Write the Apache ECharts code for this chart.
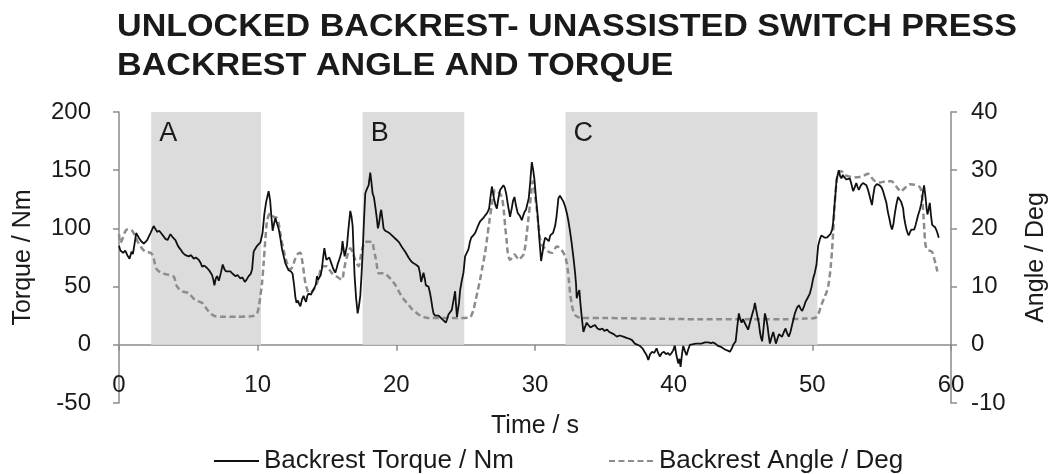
<!DOCTYPE html>
<html>
<head>
<meta charset="utf-8">
<title>Backrest Angle and Torque</title>
<script src="https://cdn.jsdelivr.net/npm/echarts@6/dist/echarts.min.js"></script>
<style>
  html, body { margin: 0; padding: 0; background: #ffffff; }
  #chart { width: 1059px; height: 474px; }
</style>
</head>
<body>
<div id="chart"></div>
<script>
// Torque trace (time in s, torque in Nm)
const torqueTime = [0,0.1,0.3,0.45,0.6,0.76,0.9,1.0,1.1,1.24,1.43,1.6,1.79,2.03,2.15,2.27,2.5,2.75,2.9,3.1,3.35,3.5,3.71,3.9,4.07,4.25,4.43,4.6,4.79,5.03,5.2,5.39,5.55,5.75,5.9,5.99,6.15,6.35,6.5,6.71,6.8,6.88,6.98,7.07,7.2,7.35,7.48,7.6,7.72,8.03,8.2,8.39,8.55,8.75,8.9,9.07,9.2,9.35,9.5,9.6,9.71,9.85,9.96,10.2,10.35,10.48,10.6,10.79,10.9,10.99,11.08,11.18,11.28,11.4,11.51,11.63,11.76,11.88,12.0,12.23,12.4,12.52,12.62,12.72,12.8,12.9,13.0,13.08,13.2,13.31,13.4,13.49,13.58,13.68,13.85,13.95,14.1,14.2,14.28,14.36,14.45,14.55,14.64,14.72,14.81,14.88,14.95,15.05,15.17,15.28,15.4,15.5,15.6,15.7,15.79,15.88,15.96,16.05,16.12,16.2,16.27,16.35,16.44,16.55,16.68,16.77,16.85,16.92,16.99,17.1,17.21,17.3,17.4,17.48,17.57,17.66,17.76,17.88,18.0,18.12,18.2,18.29,18.38,18.48,18.58,18.67,18.75,18.85,18.91,19.0,19.08,19.2,19.32,19.5,19.68,19.85,20.04,20.2,20.4,20.64,20.88,21.05,21.24,21.4,21.6,21.7,21.79,21.88,21.96,22.05,22.13,22.32,22.42,22.51,22.6,22.68,22.8,22.92,23.05,23.16,23.3,23.4,23.57,23.66,23.76,23.88,24.0,24.12,24.24,24.3,24.37,24.45,24.52,24.6,24.72,24.84,24.96,25.08,25.2,25.3,25.4,25.55,25.68,25.85,26.04,26.15,26.28,26.4,26.53,26.62,26.69,26.8,26.89,26.97,27.05,27.15,27.25,27.35,27.48,27.6,27.72,27.82,27.92,28.05,28.2,28.32,28.42,28.52,28.62,28.76,28.9,29.05,29.15,29.24,29.35,29.45,29.55,29.65,29.77,29.86,29.96,30.08,30.2,30.32,30.44,30.55,30.65,30.73,30.85,31.0,31.1,31.2,31.3,31.45,31.55,31.69,31.8,31.93,32.05,32.17,32.3,32.4,32.52,32.65,32.78,32.89,32.96,33.01,33.1,33.2,33.28,33.37,33.49,33.6,33.73,33.85,34.0,34.15,34.33,34.5,34.69,34.85,35.0,35.2,35.35,35.53,35.7,35.9,36.1,36.37,36.6,36.85,37.0,37.2,37.4,37.57,37.75,37.9,38.05,38.17,38.3,38.45,38.6,38.77,38.88,39.0,39.15,39.3,39.45,39.6,39.72,39.85,39.95,40.09,40.2,40.33,40.42,40.5,40.6,40.69,40.8,40.93,41.05,41.17,41.3,41.6,42.0,42.25,42.5,42.7,42.85,43.0,43.21,43.45,43.7,43.9,44.06,44.2,44.3,44.47,44.58,44.7,44.8,44.9,45.0,45.08,45.2,45.37,45.5,45.66,45.78,45.86,45.95,46.05,46.15,46.22,46.3,46.38,46.48,46.58,46.68,46.77,46.85,46.94,47.05,47.18,47.28,47.37,47.48,47.59,47.7,47.82,47.95,48.07,48.18,48.3,48.42,48.54,48.64,48.74,48.9,49.03,49.15,49.27,49.4,49.51,49.65,49.82,49.95,50.06,50.18,50.3,50.42,50.55,50.66,50.78,50.9,51.05,51.19,51.3,51.43,51.5,51.57,51.67,51.75,51.85,51.91,52.0,52.1,52.2,52.3,52.46,52.58,52.7,52.82,52.94,53.05,53.17,53.25,53.35,53.5,53.65,53.78,53.9,54.02,54.15,54.3,54.4,54.5,54.65,54.86,55.0,55.1,55.22,55.34,55.45,55.58,55.66,55.75,55.85,55.94,56.05,56.18,56.3,56.4,56.47,56.55,56.61,56.7,56.79,56.87,56.95,57.05,57.15,57.25,57.35,57.45,57.51,57.62,57.75,57.85,57.92,58.0,58.06,58.12,58.18,58.24,58.3,58.38,58.47,58.55,58.64,58.75,58.85,58.93,59.02,59.12];
const torqueValues = [85,81,79,81,77,74,80,78,85,96,92,89,87,90,89,96,102,97,98,95,91,90,95,92,90,85,82,79,77,76,77,74,75,73,70,67,68,66,64,60,56,51,57,59,55,62,69,65,63,63,61,59,60,57,58,54,56,59,61,65,80,83,85,88,96,112,122,132,124,110,98,104,109,104,100,92,82,76,70,64,63,61,52,41,36,38,35,33,39,42,39,37,42,44,43,46,49,52,59,56,56,60,66,75,83,78,73,74,75,71,67,64,62,66,70,73,76,80,89,82,76,80,85,100,115,110,102,80,59,40,27,33,42,58,79,105,130,134,137,148,140,130,127,119,110,100,104,113,116,108,100,98,97,96,94,92,90,88,84,80,75,72,70,69,67,62,54,58,62,57,51,50,45,39,32,27,25,24,25,24,22,22,19,22,26,28,30,38,46,35,24,23,36,47,55,62,76,79,82,88,92,94,96,101,106,105,109,111,113,115,117,128,136,131,125,120,117,125,133,135,137,135,130,120,110,117,124,127,120,113,111,107,111,114,116,117,126,139,157,151,142,125,110,90,72,80,88,92,92,89,94,93,96,102,110,126,128,127,123,119,113,107,98,87,74,62,52,40,44,47,35,24,11,15,19,17,15,16,17,14,13,14,12,13,11,10,9,7,8,7,6,5,4,1,0,-1,-3,-6,-9,-13,-8,-6,-7,-3,-7,-10,-7,-6,-8,-7,-9,-7,-5,-1,-9,-16,-12,-19,-8,-1,-5,-9,-4,0,1,1,1,2,2,1.5,2,1,-1,-2,-4,-5,-6,-3,0,3,15,27,22,19,22,21,17,13,19,26,31,36,30,24,18,11,6,3,14,27,22,16,8,1,6,11,6,1,5,9,8,7,11,14,10,7,11,17,22,27,32,34,31,29,33,37,40,44,50,57,62,69,85,91,94,93,92,92,93,95,99,105,116,130,142,147,150,145,143,146,144,142,141,143,138,132,135,139,136,133,137,139,140,137,133,127,120,129,136,138,137,135,132,127,122,114,107,102,99,104,112,120,127,126,123,122,117,110,104,99,96,94,97,99,98,99,103,106,111,116,121,126,133,137,131,125,117,112,116,122,112,103,104,101,99,96,92];

// Angle trace (time in s, angle in deg)
const angleTime = [0,0.1,0.3,0.45,0.59,0.8,0.95,1.19,1.35,1.55,1.75,1.91,2.27,2.4,2.5,2.6,2.75,3.11,3.59,3.95,4.08,4.19,4.55,5.03,5.25,5.51,5.99,6.2,6.47,6.7,6.95,7.5,8.5,9.5,9.75,9.96,10.1,10.19,10.31,10.43,10.55,10.67,10.8,10.91,11.15,11.4,11.52,11.63,11.75,11.87,12.0,12.12,12.35,12.48,12.6,12.72,12.84,13.08,13.16,13.24,13.34,13.44,13.56,13.68,13.96,14.12,14.28,14.45,14.64,15.0,15.18,15.36,15.72,16.08,16.2,16.32,16.5,16.68,16.86,17.04,17.28,17.4,17.52,17.64,17.76,18.24,18.36,18.48,18.6,18.72,19.08,19.44,19.7,19.92,20.15,20.4,20.65,20.88,21.1,21.36,21.6,21.84,22.3,23.5,24.5,25.3,25.44,25.56,25.68,25.86,26.04,26.22,26.4,26.55,26.69,26.89,27.0,27.13,27.41,27.55,27.65,27.75,27.85,27.95,28.04,28.2,28.36,28.52,28.7,28.85,29.0,29.17,29.3,29.41,29.53,29.65,29.75,29.84,29.92,30.01,30.13,30.25,30.37,30.49,30.65,30.85,31.03,31.21,31.4,31.57,31.81,32.0,32.17,32.28,32.36,32.45,32.53,32.65,32.77,32.9,33.01,33.3,35,38,42,46,48,49.5,50.18,50.42,50.55,50.66,50.78,50.9,51.02,51.14,51.24,51.33,51.42,51.5,51.58,51.67,51.76,51.86,52.1,52.34,52.7,53.17,53.66,54.02,54.2,54.38,54.6,54.86,55.35,55.7,55.9,56.06,56.22,56.38,56.52,56.66,56.84,57.02,57.38,57.6,57.74,57.84,57.9,57.96,58.02,58.08,58.14,58.22,58.33,58.62,58.72,58.81,58.92,59.02];
const angleValues = [19,17.5,18.5,19.5,19.8,19.8,19.6,18.6,17.7,16.9,16.3,16,15.8,15.5,14.9,13.8,12.9,12.3,12,11.7,10.8,10,9.2,8.9,8.3,7.7,7.2,6.6,5.7,5.2,4.9,4.8,4.8,4.9,5.0,5.4,6.8,8.3,10.5,14,18,21.2,22.3,22.6,22,21.8,20.8,19.2,17.6,16.3,15,14,12.9,13.3,14,14.9,15.5,15.8,15.2,14,12.3,10.6,9.6,8.9,9.2,9.8,10.6,12,13.5,13.5,12.9,12.3,11.7,11.2,12.5,14,15.6,16.6,15.8,14.6,13.5,14.8,16.3,17.2,17.7,17.7,16.6,15.2,13.6,12.3,12.3,11.7,11.0,10.3,9.3,8.3,7.5,6.9,6.2,5.7,5.2,4.9,4.6,4.6,4.6,4.7,5.2,6,7.2,9.2,11.2,13.5,15.8,18.4,20.9,24.1,25.7,26.6,26.1,25.7,24.9,23,20.3,18,15.8,14.6,15,15.5,15,14.6,15,15.5,17,19.2,21.8,24.3,26.6,28.1,27.5,25.5,23.3,20.5,18.2,17.2,16.7,16.3,15.9,15.8,16.4,16.9,16.6,16,15.2,14.2,12.9,10.9,8.9,7,5.7,5.1,4.9,4.6,4.6,4.5,4.4,4.4,4.4,4.5,4.6,5.2,6.1,6.9,7.6,8.3,9,10,11.6,13.5,16.2,19.2,22.8,26.1,28.2,29.5,29.8,29.2,28.9,28.8,29,29.4,29,28.4,28,27.9,28.1,28.1,27.7,27.2,26.7,26.3,26.6,26.9,27.3,27.6,27.5,27.3,27.1,26.6,25.8,24,22,19.6,17.5,16.6,16.3,16,15.4,14.6,13.6,12.6];

// Shaded test phases
const phaseNames = ['A', 'B', 'C'];
const phaseStart = [2.32, 17.57, 32.2];
const phaseEnd = [10.24, 24.9, 50.37];

// Axis ranges and tick steps
const timeAxis = { min: 0, max: 60, step: 10 };
const torqueAxis = { min: -50, max: 200, step: 50 };
const angleAxis = { min: -10, max: 40, step: 10 };

const seriesNames = ['Backrest Torque / Nm', 'Backrest Angle / Deg'];
const titleLines = ['UNLOCKED BACKREST- UNASSISTED SWITCH PRESS', 'BACKREST ANGLE AND TORQUE'];

const FONT = "'Liberation Sans', Arial, Helvetica, sans-serif";
const TEXT = '#1a1a1a';
const AXIS = '#8c8c8c';

const pairs = (xs, ys) => xs.map((x, i) => [x, ys[i]]);

const phaseAreas = phaseNames.map((name, i) => [
  { name: name, xAxis: phaseStart[i], yAxis: 0 },
  { xAxis: phaseEnd[i], yAxis: torqueAxis.max }
]);

const chart = echarts.init(document.getElementById('chart'), null, { renderer: 'canvas' });

const valueAxisBase = {
  type: 'value',
  nameLocation: 'middle',
  nameMoveOverlap: false,
  nameTextStyle: { fontFamily: FONT, fontSize: 25, color: TEXT },
  axisLine: { show: true, lineStyle: { color: AXIS, width: 1.5 } },
  axisTick: { show: true, length: 6, lineStyle: { color: AXIS, width: 1.5 } },
  axisLabel: { fontFamily: FONT, fontSize: 24, color: TEXT },
  splitLine: { show: false }
};

chart.setOption({
  animation: false,
  backgroundColor: '#ffffff',
  textStyle: { fontFamily: FONT },
  graphic: [{
    type: 'text',
    left: 117,
    top: 8,
    scaleX: 1.1,
    originX: 0,
    style: {
      text: titleLines.join('\n'),
      font: 'bold 31px ' + FONT,
      lineHeight: 39,
      fill: TEXT
    }
  }],
  grid: { left: 119, right: 108, top: 112, bottom: 71, containLabel: false, outerBoundsMode: 'none' },
  legend: {
    data: seriesNames,
    left: 213,
    top: 448,
    padding: 0,
    itemWidth: 45,
    itemHeight: 14,
    itemGap: 94,
    itemStyle: { opacity: 0 },
    textStyle: { fontFamily: FONT, fontSize: 26, color: TEXT }
  },
  xAxis: {
    type: 'value',
    min: timeAxis.min,
    max: timeAxis.max,
    interval: timeAxis.step,
    name: 'Time / s',
    nameLocation: 'middle',
    nameGap: 11,
    nameMoveOverlap: false,
    nameTextStyle: { fontFamily: FONT, fontSize: 25, color: TEXT },
    axisLine: { show: true, onZero: true, lineStyle: { color: AXIS, width: 1.5 } },
    axisTick: { show: true, length: 6, lineStyle: { color: AXIS, width: 1.5 } },
    axisLabel: { fontFamily: FONT, fontSize: 24, color: TEXT, margin: -30 },
    splitLine: { show: false }
  },
  yAxis: [
    Object.assign({}, valueAxisBase, {
      position: 'left',
      min: torqueAxis.min,
      max: torqueAxis.max,
      interval: torqueAxis.step,
      name: 'Torque / Nm',
      nameGap: 83,
      axisLabel: Object.assign({}, valueAxisBase.axisLabel, { margin: 28 })
    }),
    Object.assign({}, valueAxisBase, {
      position: 'right',
      min: angleAxis.min,
      max: angleAxis.max,
      interval: angleAxis.step,
      name: 'Angle / Deg',
      nameGap: 73,
      axisLabel: Object.assign({}, valueAxisBase.axisLabel, { margin: 20 })
    })
  ],
  series: [
    {
      name: 'phases',
      type: 'line',
      data: [],
      xAxisIndex: 0,
      yAxisIndex: 0,
      z: 1,
      silent: true,
      markArea: {
        silent: true,
        itemStyle: { color: '#dcdcdc' },
        label: {
          show: true,
          position: 'insideTopLeft',
          distance: 8,
          fontFamily: FONT,
          fontSize: 27,
          color: TEXT
        },
        data: phaseAreas
      }
    },
    {
      name: seriesNames[0],
      type: 'line',
      xAxisIndex: 0,
      yAxisIndex: 0,
      z: 4,
      data: pairs(torqueTime, torqueValues),
      showSymbol: false,
      symbol: 'none',
      lineStyle: { color: '#111111', width: 1.8 },
      itemStyle: { color: '#111111' }
    },
    {
      name: seriesNames[1],
      type: 'line',
      xAxisIndex: 0,
      yAxisIndex: 1,
      z: 3,
      data: pairs(angleTime, angleValues),
      showSymbol: false,
      symbol: 'none',
      smooth: 0.3,
      lineStyle: { color: '#8c8c8c', width: 2.5, type: [6, 3.5] },
      itemStyle: { color: '#8c8c8c' }
    }
  ]
});
</script>
</body>
</html>
